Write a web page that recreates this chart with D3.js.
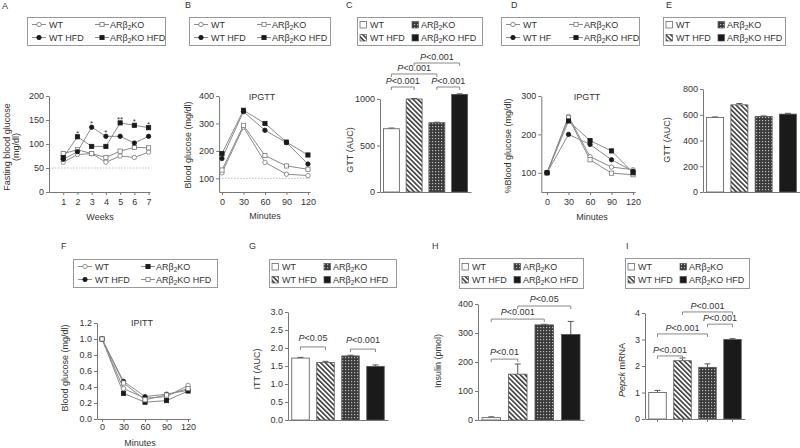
<!DOCTYPE html>
<html><head><meta charset="utf-8">
<script src="https://cdn.jsdelivr.net/npm/d3@7"></script>
<style>body{margin:0;background:#fff}svg{display:block;font-family:"Liberation Sans",Arial,Helvetica,sans-serif;font-size:9px}</style>
</head><body><svg id="c" width="800" height="448"></svg>
<script>
// ---------- DATA ----------
const barGroups = ["WT", "WT HFD", "ARβ2KO", "ARβ2KO HFD"];
const weeksA = [1, 2, 3, 4, 5, 6, 7];
const aWT = [62, 78, 80, 62, 75, 72, 83];
const aKO = [80, 88, 80, 72, 85, 93, 92];
const aWTHFD = [68, 84, 135, 116, 116, 102, 116];
const aKOHFD = [72, 115, 95, 95, 144, 139, 134];
const aStars = ["", "*", "*", "*", "**", "*", "*"];
const minutes = [0, 30, 60, 90, 120];
const bWT = [120, 287, 158, 115, 110];
const bKO = [130, 293, 183, 145, 133];
const bWTHFD = [172, 343, 275, 230, 152];
const bKOHFD = [190, 348, 300, 232, 185];
const cGTT = [680, 1000, 745, 1050];
const cErr = [8, 5, 5, 5];
const dWT = [100, 247, 142, 115, 108];
const dKO = [100, 243, 134, 99, 95];
const dWTHF = [100, 200, 174, 134, 104];
const dKOHFD = [100, 235, 184, 157, 100];
const eGTT = [578, 677, 587, 605];
const eErr = [5, 10, 4, 6];
const fWT = [1, 0.38, 0.26, 0.28, 0.42];
const fKO = [1, 0.32, 0.21, 0.23, 0.35];
const fWTHFD = [1, 0.47, 0.28, 0.31, 0.36];
const fKOHFD = [1, 0.45, 0.24, 0.30, 0.38];
const gITT = [1.72, 1.60, 1.78, 1.49];
const gErr = [0.02, 0.03, 0.02, 0.04];
const hIns = [8, 158, 328, 295];
const hErr = [3, 35, 2, 45];
const iPepck = [1.0, 2.2, 1.95, 3.0];
const iErr = [0.08, 0.1, 0.13, 0.03];
// comparisons: [bar a, bar b, p threshold, bracket level (data units)]
const cComp = [[0, 1, "0.001", 1129], [2, 3, "0.001", 1129], [0, 2, "0.001", 1269], [1, 3, "0.001", 1387]];
const gComp = [[0, 1, "0.05", 2.03], [2, 3, "0.001", 1.97]];
const hComp = [[0, 1, "0.01", 210], [0, 2, "0.001", 348], [1, 3, "0.05", 393]];
const iComp = [[0, 1, "0.001", 2.38], [0, 2, "0.001", 3.21], [2, 3, "0.001", 3.58], [1, 3, "0.001", 4.04]];

// ---------- DRAW ----------
const svg = d3.select("#c");
const AX = "#777", TXT = "#333", LN = "#8a8a8a", DARK = "#1a1a1a";
const defs = svg.append("defs");
const hatch = defs.append("pattern").attr("id", "hatch").attr("patternUnits", "userSpaceOnUse")
  .attr("width", 3.4).attr("height", 3.4).attr("patternTransform", "rotate(-45)");
hatch.append("rect").attr("width", 3.4).attr("height", 3.4).attr("fill", "#fff");
hatch.append("line").attr("x1", 0.8).attr("x2", 0.8).attr("y1", 0).attr("y2", 3.4).attr("stroke", "#222").attr("stroke-width", 1.4);
const chk = defs.append("pattern").attr("id", "chk").attr("patternUnits", "userSpaceOnUse").attr("width", 3).attr("height", 3);
chk.append("rect").attr("width", 3).attr("height", 3).attr("fill", "#3a3a3a");
chk.append("rect").attr("width", 1.2).attr("height", 1.2).attr("fill", "#bdbdbd");
const barFills = ["#fff", "url(#hatch)", "url(#chk)", DARK];

function richText(t, str) {
  const i = str.indexOf("β2");
  if (i < 0) { t.text(str); return; }
  t.append("tspan").text(str.slice(0, i + 1));
  t.append("tspan").attr("dy", 2).attr("font-size", "6.5px").text("2");
  t.append("tspan").attr("dy", -2).text(str.slice(i + 2));
}
function pText(t, thr) {
  t.append("tspan").attr("font-style", "italic").text("P");
  t.append("tspan").text("<" + thr);
}
function styleAxis(g) {
  g.attr("font-size", null).attr("font-family", null);
  g.selectAll("path,line").attr("stroke", AX).attr("stroke-width", 1);
  g.selectAll("text").attr("fill", TXT);
}
function panelLabel(x, y, s) {
  svg.append("text").attr("x", x).attr("y", y).attr("fill", TXT).text(s);
}
function yLabel(x, y, lines) {
  lines.forEach((l, k) => {
    const t = svg.append("text").attr("transform", `translate(${x + k * 8.5},${y}) rotate(-90)`)
      .attr("text-anchor", "middle").attr("fill", TXT);
    if (typeof l === "string") t.text(l);
    else l(t);
  });
}
function marker(g, x, y, type, filled) {
  const fill = filled ? DARK : "#fff", stroke = filled ? DARK : "#777";
  if (type === "circle") g.append("circle").attr("cx", x).attr("cy", y).attr("r", 2.2).attr("fill", fill).attr("stroke", stroke).attr("stroke-width", 0.8);
  else g.append("rect").attr("x", x - 2.1).attr("y", y - 2.1).attr("width", 4.2).attr("height", 4.2).attr("fill", fill).attr("stroke", stroke).attr("stroke-width", 0.8);
}
function legend(x, y, w, h, items, kind) {
  const g = svg.append("g");
  g.append("rect").attr("x", x + 0.5).attr("y", y + 0.5).attr("width", w).attr("height", h)
    .attr("fill", "none").attr("stroke", "#999");
  const offs = kind === "line" ? [12, 22, 75, 83] : [6, 13, 58, 64];
  items.forEach((it, i) => {
    const col = i % 2, row = Math.floor(i / 2);
    const cy = y + (row === 0 ? 7.5 : 20.5) + (h > 28 ? 1 : 0);
    const mx = x + (col === 0 ? offs[0] : offs[2]);
    const tx = x + (col === 0 ? offs[1] : offs[3]);
    if (kind === "line") {
      g.append("line").attr("x1", mx - 7).attr("x2", mx + 7).attr("y1", cy).attr("y2", cy).attr("stroke", LN);
      marker(g, mx, cy, it.m, it.f);
    } else {
      g.append("rect").attr("x", mx - 3).attr("y", cy - 3).attr("width", 6.5).attr("height", 6.5)
        .attr("fill", it.fill).attr("stroke", "#555").attr("stroke-width", 0.7);
    }
    richText(g.append("text").attr("x", tx).attr("y", cy + 3.3).attr("fill", TXT), it.label);
  });
}
function linePanel(o) {
  const x = d3.scaleLinear().domain(o.xd).range(o.xr);
  const y = d3.scaleLinear().domain(o.yd).range(o.yr);
  const g = svg.append("g");
  if (o.ref !== undefined) g.append("line").attr("x1", o.xr[0]).attr("x2", o.xr[1]).attr("y1", y(o.ref)).attr("y2", y(o.ref))
    .attr("stroke", "#bbb").attr("stroke-dasharray", "1.5,1.5");
  const ya = g.append("g").attr("transform", `translate(${o.xr[0]},0)`)
    .call(d3.axisLeft(y).tickValues(o.yt).tickFormat(o.yf || d3.format("d")).tickSize(3).tickPadding(2).tickSizeOuter(0));
  styleAxis(ya);
  const xa = g.append("g").attr("transform", `translate(0,${o.yr[0]})`)
    .call(d3.axisBottom(x).tickValues(o.xv).tickFormat(d3.format("d")).tickSize(3).tickPadding(o.xpad).tickSizeOuter(0));
  styleAxis(xa);
  const line = d3.line().x((d, i) => x(o.xv[i])).y(d => y(d));
  o.series.forEach(s => g.append("path").attr("d", line(s.v)).attr("fill", "none").attr("stroke", LN).attr("stroke-width", 1));
  o.series.forEach(s => s.v.forEach((d, i) => marker(g, x(o.xv[i]), y(d), s.m, s.f)));
  if (o.title) g.append("text").attr("x", o.title[1]).attr("y", o.title[2]).attr("text-anchor", "middle").attr("fill", TXT).text(o.title[0]);
  g.append("text").attr("x", o.xl[1]).attr("y", o.xl[2]).attr("text-anchor", "middle").attr("fill", TXT).text(o.xl[0]);
  return { x, y, g };
}
function barPanel(o) {
  const x = d3.scaleBand().domain(barGroups).range(o.xr).paddingInner(0.3).paddingOuter(0.15);
  const y = d3.scaleLinear().domain(o.yd).range(o.yr);
  const g = svg.append("g");
  const ya = g.append("g").attr("transform", `translate(${o.xr[0]},0)`)
    .call(d3.axisLeft(y).tickValues(o.yt).tickFormat(o.yf || d3.format("d")).tickSize(3).tickPadding(2).tickSizeOuter(0));
  styleAxis(ya);
  o.vals.forEach((v, i) => {
    const cx = x(barGroups[i]) + x.bandwidth() / 2;
    const top = y(v + o.errs[i]);
    g.append("line").attr("x1", cx).attr("x2", cx).attr("y1", y(v)).attr("y2", top).attr("stroke", "#555");
    g.append("line").attr("x1", cx - 3).attr("x2", cx + 3).attr("y1", top).attr("y2", top).attr("stroke", "#555");
    g.append("rect").attr("x", x(barGroups[i])).attr("y", y(v)).attr("width", x.bandwidth()).attr("height", y(0) - y(v))
      .attr("fill", barFills[i]).attr("stroke", "#555").attr("stroke-width", 0.8);
  });
  const xa = g.append("g").attr("transform", `translate(0,${o.yr[0]})`)
    .call(d3.axisBottom(x).tickFormat("").tickSize(o.xticks ? 3 : 0).tickSizeOuter(0));
  styleAxis(xa);
  (o.comps || []).forEach(c => {
    const x1 = x(barGroups[c[0]]) + x.bandwidth() / 2, x2 = x(barGroups[c[1]]) + x.bandwidth() / 2, by = y(c[3]);
    g.append("path").attr("d", `M${x1},${by + 3}V${by}H${x2}V${by + 3}`).attr("fill", "none").attr("stroke", "#888");
    pText(g.append("text").attr("x", (x1 + x2) / 2).attr("y", by - (o.gap || 3)).attr("text-anchor", "middle").attr("fill", TXT), c[2]);
  });
  return { x, y, g };
}

const lineItemsStd = (l3) => [
  { label: "WT", m: "circle", f: false }, { label: "ARβ2KO", m: "square", f: false },
  { label: l3, m: "circle", f: true }, { label: "ARβ2KO HFD", m: "square", f: true }];
const barItems = [
  { label: "WT", fill: barFills[0] }, { label: "ARβ2KO", fill: barFills[2] },
  { label: "WT HFD", fill: barFills[1] }, { label: "ARβ2KO HFD", fill: barFills[3] }];

// Panel A
panelLabel(2, 9, "A");
legend(27, 17, 138, 28, lineItemsStd("WT HFD"), "line");
const pA = linePanel({
  xd: [0, 7.1], xr: [49, 150], yd: [0, 200], yr: [192, 96], yt: [0, 50, 100, 150, 200], xv: weeksA, xpad: 4, ref: 50,
  series: [{ v: aWT, m: "circle", f: false }, { v: aKO, m: "square", f: false }, { v: aWTHFD, m: "circle", f: true }, { v: aKOHFD, m: "square", f: true }],
  xl: ["Weeks", 100, 220]
});
aStars.forEach((s, i) => {
  if (!s) return;
  pA.g.append("text").attr("x", pA.x(weeksA[i])).attr("y", pA.y(Math.max(aWTHFD[i], aKOHFD[i])) - 1)
    .attr("text-anchor", "middle").attr("fill", TXT).attr("font-size", "8px").text(s);
});
yLabel(10, 147, ["Fasting blood glucose", "(mg/dl)"]);

// Panel B
panelLabel(185, 8, "B");
legend(189, 17, 141, 28, lineItemsStd("WT HFD"), "line");
linePanel({
  xd: [-4, 123], xr: [219.1, 310.1], yd: [50, 400], yr: [192, 96], yt: [100, 200, 300, 400], xv: minutes, xpad: 4, ref: 100,
  series: [{ v: bWT, m: "circle", f: false }, { v: bKO, m: "square", f: false }, { v: bWTHFD, m: "circle", f: true }, { v: bKOHFD, m: "square", f: true }],
  title: ["IPGTT", 262, 100], xl: ["Minutes", 265, 219]
});
yLabel(191, 145, ["Blood glucose (mg/dl)"]);

// Panel C
panelLabel(346, 8, "C");
legend(357, 17, 125, 28, barItems, "bar");
barPanel({ vals: cGTT, errs: cErr, xr: [380, 471], yd: [0, 1000], yr: [192, 99], yt: [0, 500, 1000], comps: cComp, gap: 3 });
yLabel(353, 150, ["GTT (AUC)"]);

// Panel D
panelLabel(511, 8, "D");
legend(501, 17, 138, 28, lineItemsStd("WT HF"), "line");
linePanel({
  xd: [-8, 123], xr: [541.3, 635.2], yd: [50, 300], yr: [192, 96], yt: [100, 200, 300], xv: minutes, xpad: 4,
  series: [{ v: dWT, m: "circle", f: false }, { v: dKO, m: "square", f: false }, { v: dWTHF, m: "circle", f: true }, { v: dKOHFD, m: "square", f: true }],
  title: ["IPGTT", 587, 100], xl: ["Minutes", 592, 220]
});
yLabel(511, 146, ["%Blood glucose (mg/dl)"]);

// Panel E
panelLabel(666, 8, "E");
legend(663, 17, 122, 28, barItems, "bar");
barPanel({ vals: eGTT, errs: eErr, xr: [703, 800], yd: [0, 800], yr: [192, 89], yt: [0, 200, 400, 600, 800] });
yLabel(670, 140, ["GTT (AUC)"]);

// Panel F
panelLabel(61, 249, "F");
legend(73, 259, 144, 28, [
  { label: "WT", m: "circle", f: false }, { label: "ARβ2KO", m: "square", f: true },
  { label: "WT HFD", m: "circle", f: true }, { label: "ARβ2KO HFD", m: "square", f: false }], "line");
linePanel({
  xd: [-7, 123], xr: [97, 190.2], yd: [0, 1.2], yr: [419, 323], yt: [0, 0.2, 0.4, 0.6, 0.8, 1.0, 1.2], yf: d3.format(".1f"), xv: minutes, xpad: 2,
  series: [{ v: fWT, m: "circle", f: false }, { v: fKO, m: "square", f: true }, { v: fWTHFD, m: "circle", f: true }, { v: fKOHFD, m: "square", f: false }],
  title: ["IPITT", 142, 326], xl: ["Minutes", 140, 446]
});
yLabel(68, 368, ["Blood glucose (mg/dl)"]);

// Panel G
panelLabel(249, 249, "G");
legend(269, 259, 127, 28, barItems, "bar");
barPanel({ vals: gITT, errs: gErr, xr: [288, 388], yd: [0, 3], yr: [420, 312], yt: [0, 0.5, 1, 1.5, 2, 2.5, 3], yf: d3.format(".1f"), comps: gComp, gap: 6 });
yLabel(260, 369, ["ITT (AUC)"]);

// Panel H
panelLabel(432, 249, "H");
legend(459, 258, 124, 30, barItems, "bar");
barPanel({ vals: hIns, errs: hErr, xr: [478, 584], yd: [0, 400], yr: [420, 304], yt: [0, 100, 200, 300, 400], comps: hComp, gap: 4 });
yLabel(441, 361, ["Insulin (pmol)"]);

// Panel I
panelLabel(626, 249, "I");
legend(625, 258, 124, 30, barItems, "bar");
barPanel({ vals: iPepck, errs: iErr, xr: [645, 745], yd: [0, 4], yr: [419, 313], yt: [0, 1, 2, 3, 4], comps: iComp, gap: 3, xticks: true });
yLabel(625, 370, [t => { t.append("tspan").attr("font-style", "italic").text("Pepck"); t.append("tspan").text(" mRNA"); }]);
</script></body></html>
